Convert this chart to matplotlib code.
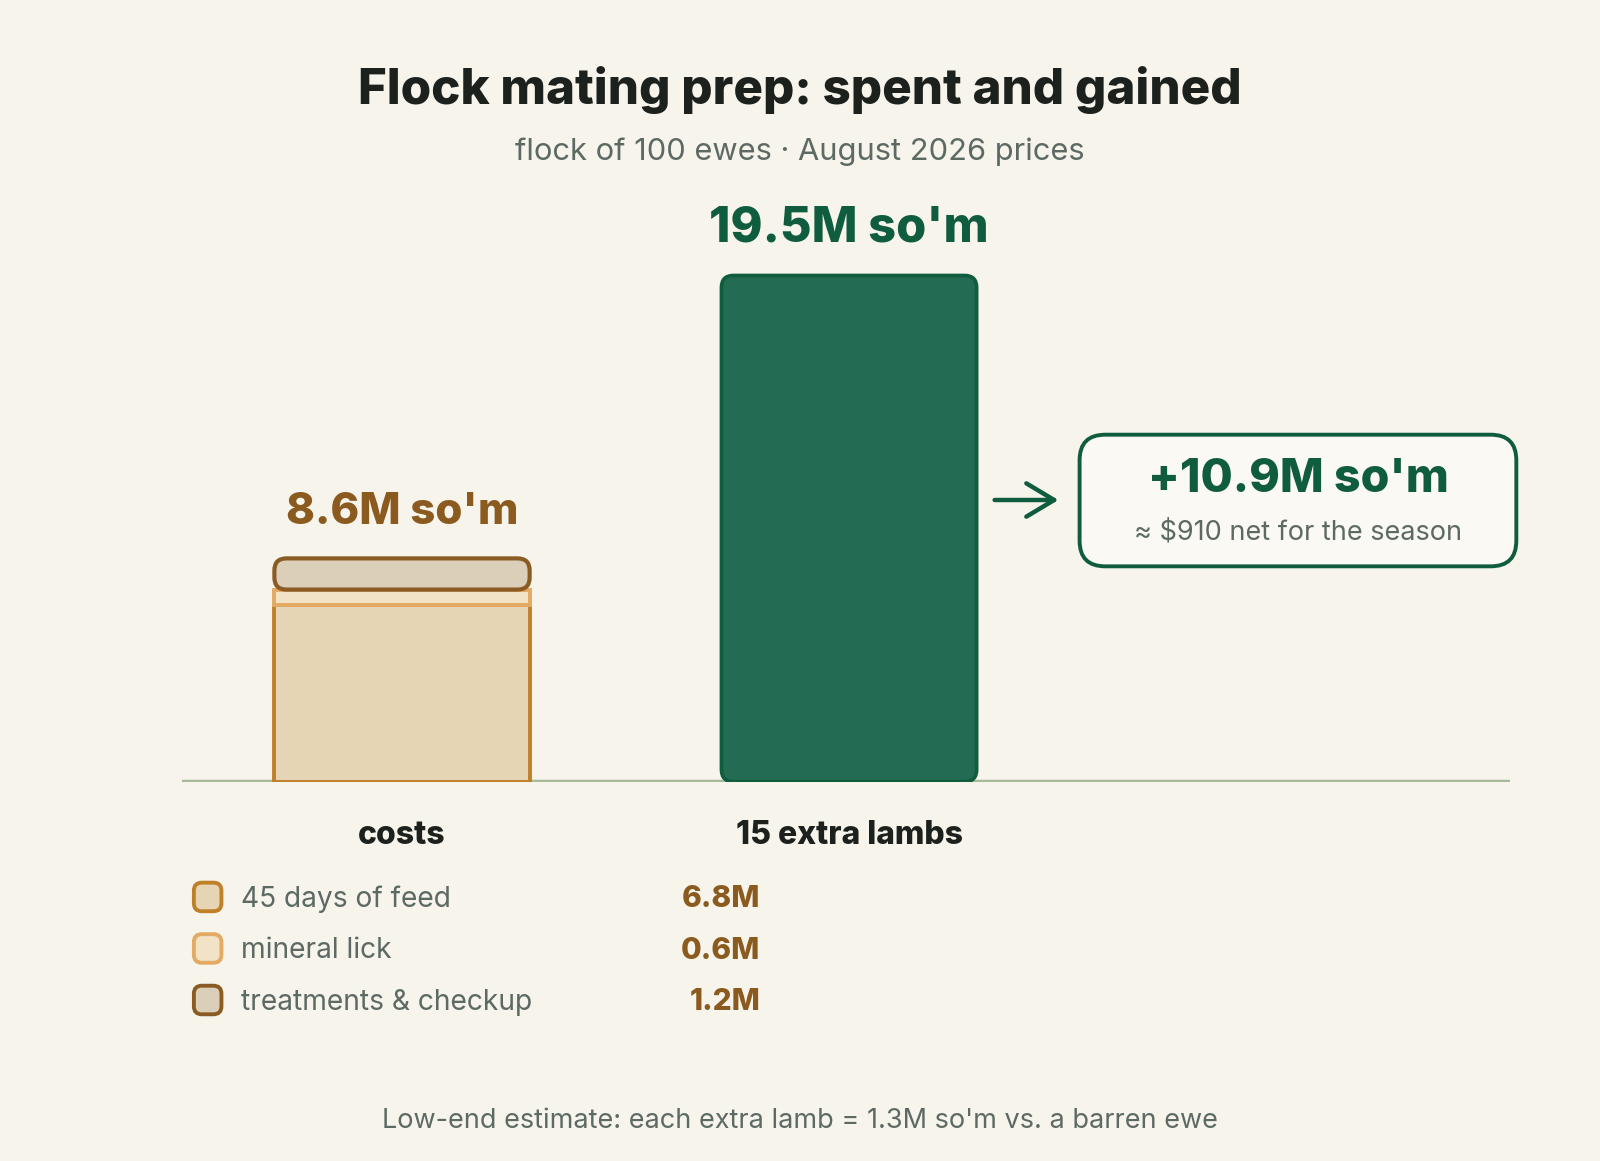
"""Flock mating prep: costs vs. gain from extra lambs"""

import matplotlib.pyplot as plt
from matplotlib.patches import FancyBboxPatch, FancyArrowPatch

plt.rcParams['font.family'] = ['Inter', 'DejaVu Sans']

# data (million so'm)
categories = ['costs', '15 extra lambs']
cost_parts = ['45 days of feed', 'mineral lick', 'treatments & checkup']
cost_values = [6.8, 0.6, 1.2]
gain_value = 19.5
net_value = 10.9
net_usd = 910

BG = '#f7f4ec'
GREEN = '#236b52'
GREEN_DARK = '#0f5c3e'
BROWN_TXT = '#8a5a1f'
GRAY_TXT = '#5d6a64'
part_fill = ['#e6d5b5', '#f2e2c6', '#dccfba']
part_edge = ['#c0802a', '#e3aa63', '#8a5c24']

W, H = 1600, 1161
S = 1600 / 1568  # layout was measured on a 1568-wide view
DY = 3  # text sits a bit lower than its box centre
fig = plt.figure(figsize=(W / 100, H / 100), dpi=100, facecolor=BG)


def fx(px):
    return px * S / W


def fy(py):
    return 1 - py * S / H


def ty(py):
    return fy(py + DY)


ax = fig.add_axes([fx(178), fy(766), fx(1480) - fx(178), fy(200) - fy(766)])
ax.set_facecolor(BG)
ax.set_xlim(-0.493, 2.479)
ax.set_ylim(0, 22.25)
ax.axis('off')
ax.axhline(0, color='#a9b99b', lw=3.2, zorder=1)

bar_w = 0.571
aspect = 438 / 25.44  # px per x unit / px per y unit

# stacked cost bar
bottom = 0
for i, (val, fc, ec) in enumerate(zip(cost_values, part_fill, part_edge)):
    bars = ax.bar(0, val, bottom=bottom, width=bar_w, color=fc, edgecolor=ec,
                  linewidth=2.8, zorder=2)
    if i == len(cost_values) - 1:
        b = bars[0]
        b.set_visible(False)
        ax.add_patch(FancyBboxPatch((b.get_x(), b.get_y()), b.get_width(), b.get_height(),
                                    boxstyle='round,pad=0,rounding_size=0.027',
                                    mutation_aspect=aspect, fc=fc, ec=ec, lw=3, zorder=3))
    bottom += val
cost_total = bottom

# gain bar
gb = ax.bar(1, gain_value, width=bar_w, color=GREEN, zorder=2)[0]
gb.set_visible(False)
ax.add_patch(FancyBboxPatch((gb.get_x(), gb.get_y()), gb.get_width(), gb.get_height(),
                            boxstyle='round,pad=0,rounding_size=0.027',
                            mutation_aspect=aspect, fc=GREEN, ec=GREEN_DARK, lw=2.6, zorder=3))

# value labels
ax.annotate(f"{cost_total:.1f}M so'm", xy=(0, cost_total), xytext=(0, 33),
            textcoords='offset points', ha='center', va='center',
            fontsize=31.5, fontweight='heavy', color=BROWN_TXT)
ax.annotate(f"{gain_value:.1f}M so'm", xy=(1, gain_value), xytext=(0, 34),
            textcoords='offset points', ha='center', va='center',
            fontsize=35, fontweight='heavy', color=GREEN_DARK)

# category labels
for i, cat in enumerate(categories):
    ax.annotate(cat, xy=(i, 0), xytext=(0, -39), textcoords='offset points',
                ha='center', va='center', fontsize=23, fontweight='heavy', color='#1c211e')

# title
fig.text(0.5, ty(85), 'Flock mating prep: spent and gained', ha='center', va='center',
         fontsize=35.5, fontweight='heavy', color='#1c211e')
fig.text(0.5, ty(146), 'flock of 100 ewes \u00b7 August 2026 prices', ha='center', va='center',
         fontsize=22.2, color=GRAY_TXT)

# legend for cost parts
for i, (name, val, fc, ec) in enumerate(zip(cost_parts, cost_values, part_fill, part_edge)):
    yc = 879 + i * 50.5
    fig.patches.append(FancyBboxPatch((fx(190), fy(yc + 14)), fx(27), fy(yc - 14) - fy(yc + 14),
                                      boxstyle='round,pad=0,rounding_size=0.005',
                                      mutation_aspect=W / H,
                                      transform=fig.transFigure, fc=fc, ec=ec, lw=2.8))
    fig.text(fx(236), ty(yc - 1), name, ha='left', va='center', fontsize=20.3, color=GRAY_TXT)
    fig.text(fx(745), ty(yc - 1), f'{val:.1f}M', ha='right', va='center',
             fontsize=21.5, fontweight='heavy', color=BROWN_TXT)

# net result box
fig.patches.append(FancyBboxPatch((fx(1058), fy(555)), fx(1486) - fx(1058), fy(426) - fy(555),
                                  boxstyle='round,pad=0,rounding_size=0.016',
                                  mutation_aspect=W / H,
                                  transform=fig.transFigure, fc='#fbf9f3', ec=GREEN_DARK, lw=2.8))
fig.text(fx(1272), ty(467), f"+{net_value:.1f}M so'm", ha='center', va='center',
         fontsize=33.5, fontweight='heavy', color=GREEN_DARK)
fig.text(fx(1272), ty(519), f'\u2248 ${net_usd} net for the season', ha='center', va='center',
         fontsize=19.5, color=GRAY_TXT)
fig.patches.append(FancyArrowPatch((fx(972), fy(490)), (fx(1040), fy(490)),
                                   transform=fig.transFigure, arrowstyle='->,head_length=10,head_width=6',
                                   mutation_scale=2, color=GREEN_DARK, lw=3.2))

# footer
fig.text(0.5, ty(1096), "Low-end estimate: each extra lamb = 1.3M so'm vs. a barren ewe",
         ha='center', va='center', fontsize=19.5, color=GRAY_TXT)

fig.savefig('out.png', dpi=100, facecolor=BG)
